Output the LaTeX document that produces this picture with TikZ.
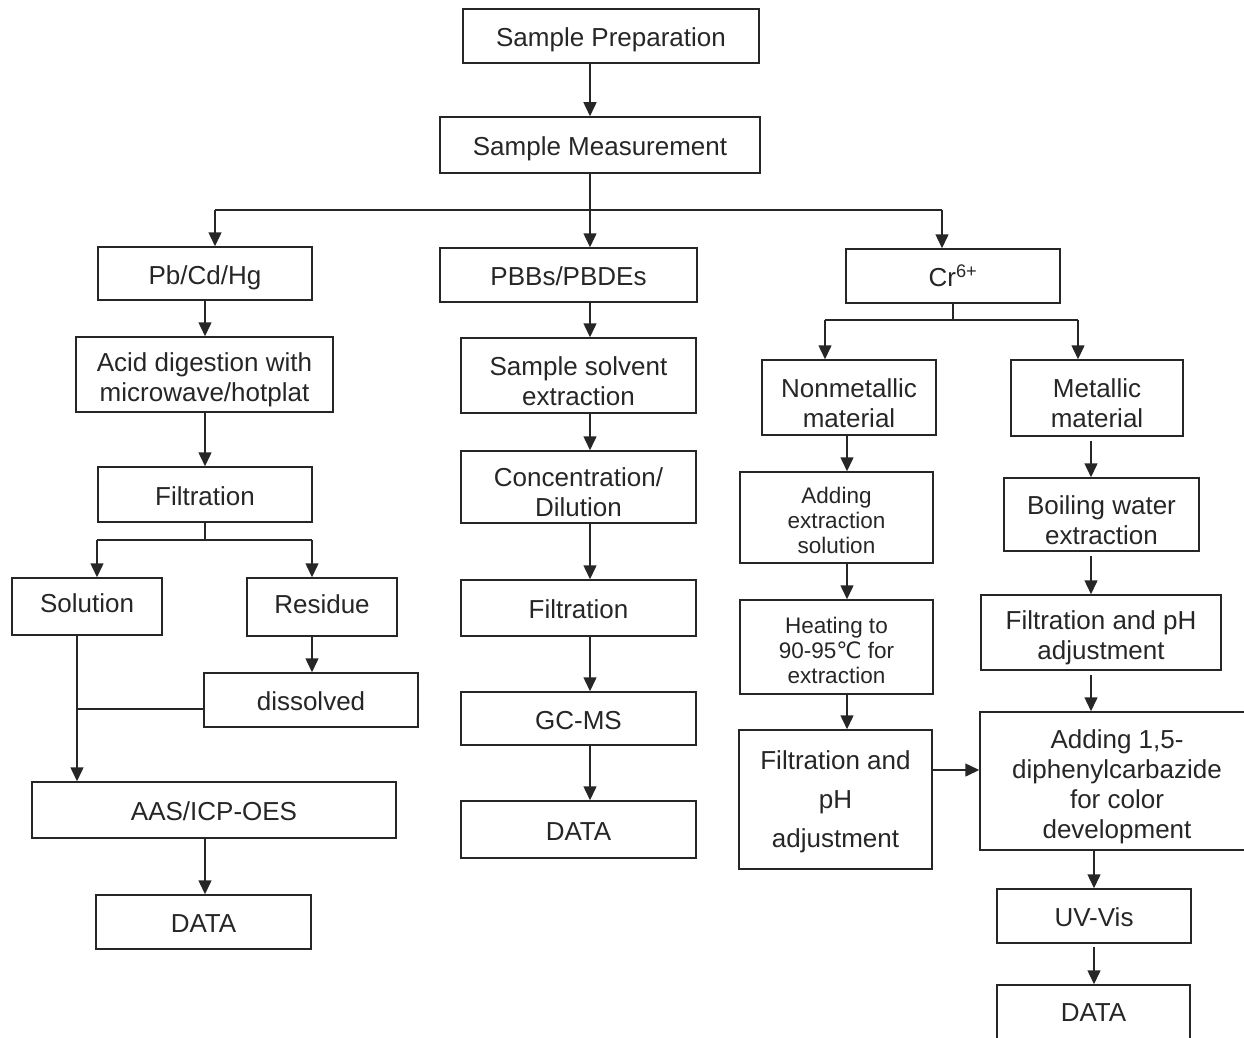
\documentclass[tikz,border=0pt]{standalone}
\usepackage{fontspec}
\setmainfont{Liberation Sans}
\newfontfamily\djv{DejaVu Sans}
\usetikzlibrary{arrows.meta}
\newcommand\bx[6]{%
  \node[box, minimum width=#4pt, minimum height=#5pt] (#2) at (#3) {};
  \node[#1] (#2-t) at (#2.center) {#6};}
\begin{document}
\begin{tikzpicture}[x=1pt,y=-1pt,
  box/.style={draw=black!85, line width=1.5pt, inner sep=0pt},
  tn/.style={inner sep=0pt, align=center, text=black!85, yshift=-5.5pt,
    font=\fontsize{26}{30}\selectfont},
  t1/.style={inner sep=0pt, text=black!85, anchor=base, yshift=-10.5pt,
    font=\fontsize{26}{30}\selectfont},
  t1b/.style={t1, yshift=4.5pt},
  ts/.style={tn, yshift=2.5pt, font=\fontsize{22.5}{25}\selectfont},
  tw/.style={tn, yshift=3.5pt, font=\fontsize{26}{39}\selectfont},
  arr/.style={draw=black!85, line width=1.5pt, -{Triangle[width=13pt,length=14pt]}},
  ln/.style={draw=black!85, line width=1.5pt}]
\useasboundingbox (0,0) rectangle (1244,1038);
% nodes
\bx{t1}{sp}{611,36}{296}{54}{Sample Preparation}
\bx{t1}{sm}{600,145}{320}{56}{Sample Measurement}
% left column
\bx{t1}{pb}{205,273.5}{214}{53}{Pb/Cd/Hg}
\bx{tn}{acid}{204.5,374.5}{257}{75}{Acid digestion with\\microwave/hotplat}
\bx{t1}{filt1}{205,494.5}{214}{55}{Filtration}
\bx{t1b}{sol}{87,606.5}{150}{57}{Solution}
\bx{t1b}{res}{322,607}{150}{58}{Residue}
\bx{t1}{diss}{311,700}{214}{54}{dissolved}
\bx{t1}{aas}{214,810}{364}{56}{AAS/ICP-OES}
\bx{t1}{data1}{203.5,922}{215}{54}{DATA}
% middle column
\bx{t1}{pbb}{568.5,275}{257}{54}{PBBs/PBDEs}
\bx{tn}{sse}{578.5,375.5}{235}{75}{Sample solvent\\extraction}
\bx{tn}{conc}{578.5,487}{235}{72}{Concentration/\\Dilution}
\bx{t1}{filt2}{578.5,608}{235}{56}{Filtration}
\bx{t1}{gcms}{578.5,718.5}{235}{53}{GC-MS}
\bx{t1}{data2}{578.5,829.5}{235}{57}{DATA}
% right column
\bx{t1}{cr}{953,276}{214}{54}{Cr\textsuperscript{6+}}
\bx{tn}{nonm}{849,397.5}{174}{75}{Nonmetallic\\material}
\bx{tn}{met}{1097,398}{172}{76}{Metallic\\material}
\bx{ts}{addx}{836.5,517.5}{193}{91}{Adding\\extraction\\solution}
\bx{ts}{heat}{836.5,647}{193}{94}{Heating to\\90-95{\djv ℃} for\\extraction}
\bx{tw}{fph1}{835.5,799.5}{193}{139}{Filtration and\\pH\\adjustment}
\bx{tn}{boil}{1101.5,514.5}{195}{73}{Boiling water\\extraction}
\bx{tn}{fph2}{1101,632.5}{240}{75}{Filtration and pH\\adjustment}
\bx{tn}{dpc}{1117,781}{274}{138}{Adding 1,5-\\diphenylcarbazide\\for color\\development}
\bx{t1}{uv}{1094,916}{194}{54}{UV-Vis}
\bx{t1b}{data3}{1093.5,1015}{193}{60}{DATA}
% coordinates
\coordinate (cx) at (590,0);
\coordinate (bl) at (215,210);
\coordinate (br) at (942,210);
\coordinate (fl) at (97,540);
\coordinate (fr) at (312,540);
\coordinate (fm) at (205,540);
\coordinate (sx) at (77,709);
\coordinate (crm) at (953,320);
\coordinate (cl) at (825,320);
\coordinate (crr) at (1078,320);
\coordinate (nx) at (847,0);
\coordinate (mx) at (1091,0);
\coordinate (hy) at (0,770);
% top
\draw[arr] (sp.south -| cx) -- (sm.north -| cx);
\draw[arr] (sm.south -| cx) -- (pbb.north -| cx);
\draw[ln] (bl) -- (br);
\draw[arr] (bl) -- (pb.north -| bl);
\draw[arr] (br) -- (cr.north -| br);
% left
\draw[arr] (pb.south) -- (pb.south |- acid.north);
\draw[arr] (acid.south -| pb.south) -- (filt1.north);
\draw[ln] (filt1.south) -- (fm);
\draw[ln] (fl) -- (fr);
\draw[arr] (fl) -- (sol.north -| fl);
\draw[arr] (fr) -- (res.north -| fr);
\draw[arr] (res.south -| fr) -- (diss.north -| fr);
\draw[arr] (sol.south -| sx) -- (aas.north -| sx);
\draw[ln] (diss.west |- sx) -- (sx);
\draw[arr] (aas.south -| filt1.south) -- (data1.north -| filt1.south);
% middle
\draw[arr] (pbb.south -| cx) -- (sse.north -| cx);
\draw[arr] (sse.south -| cx) -- (conc.north -| cx);
\draw[arr] (conc.south -| cx) -- (filt2.north -| cx);
\draw[arr] (filt2.south -| cx) -- (gcms.north -| cx);
\draw[arr] (gcms.south -| cx) -- (data2.north -| cx);
% right
\draw[ln] (cr.south) -- (crm);
\draw[ln] (cl) -- (crr);
\draw[arr] (cl) -- (nonm.north -| cl);
\draw[arr] (crr) -- (met.north -| crr);
\draw[arr] (nonm.south -| nx) -- (addx.north -| nx);
\draw[arr] (addx.south -| nx) -- (heat.north -| nx);
\draw[arr] (heat.south -| nx) -- (fph1.north -| nx);
\draw[arr] (fph1.east |- hy) -- (dpc.west |- hy);
\draw[arr] ([yshift=-4pt]met.south -| mx) -- (boil.north -| mx);
\draw[arr] ([yshift=-4pt]boil.south -| mx) -- (fph2.north -| mx);
\draw[arr] ([yshift=-4pt]fph2.south -| mx) -- (dpc.north -| mx);
\draw[arr] (dpc.south -| uv.north) -- (uv.north);
\draw[arr] ([yshift=-3pt]uv.south -| uv.north) -- (data3.north -| uv.north);
\end{tikzpicture}
\end{document}
